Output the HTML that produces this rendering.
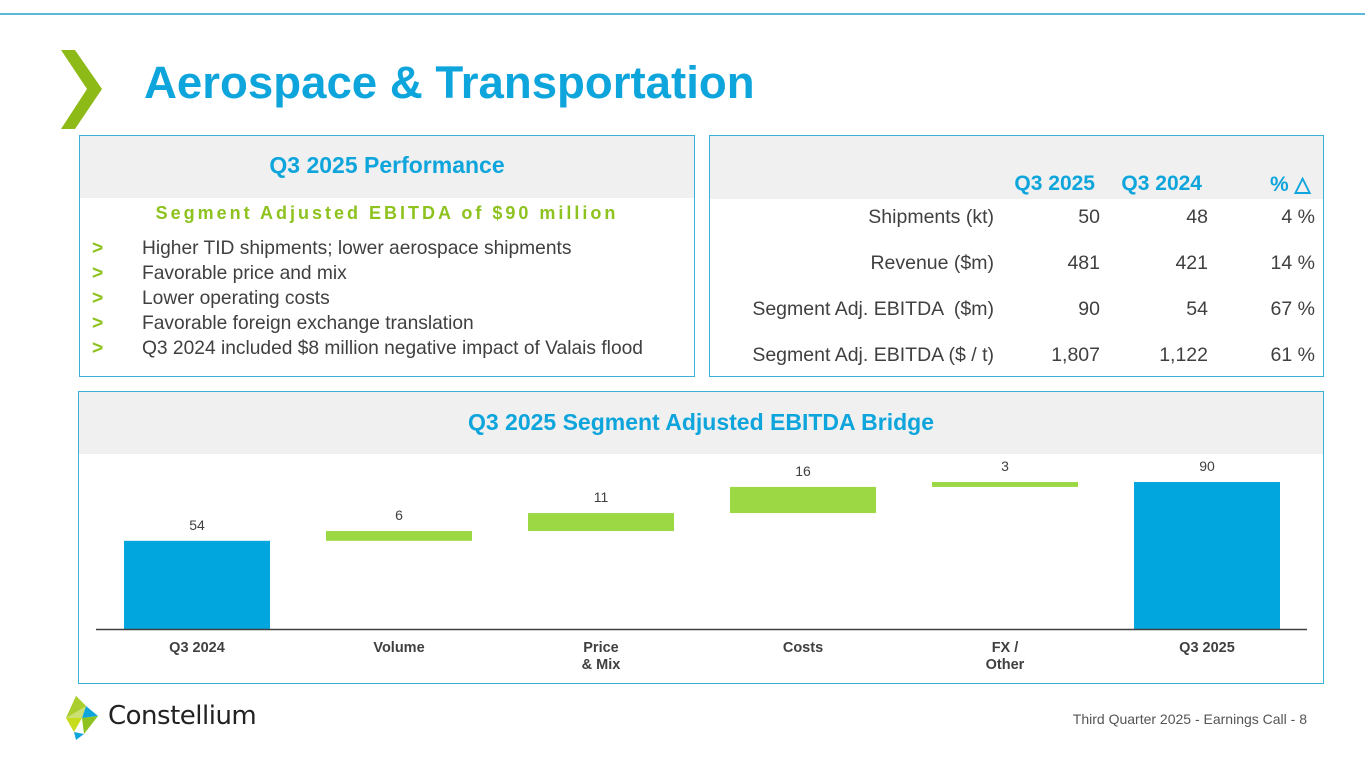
<!DOCTYPE html>
<html><head><meta charset="utf-8">
<style>
body{margin:0;width:1365px;height:768px;background:#fff;font-family:"Liberation Sans",Arial,sans-serif;position:relative;overflow:hidden;color:#404040}
.abs{position:absolute}
.box{position:absolute;border:1.5px solid #3bb0d8;box-sizing:border-box;background:#fff}
.hdr{position:absolute;left:0;right:0;top:0;background:#f0f0f0}
.blue{color:#0ea5dc}
.bul{position:absolute;left:62px;font-size:19.2px;color:#404040;white-space:nowrap}
.bul b{color:#8dc21f;position:absolute;left:-50px}
.row{position:absolute;font-size:19.5px;color:#404040;text-align:right;white-space:nowrap}
.row.blue{color:#0ea5dc}
</style></head><body>
<div class="abs" style="left:0;top:13px;width:1365px;height:2px;background:#5bb8d9"></div>
<svg class="abs" style="left:58px;top:47px" width="46" height="86"><polygon points="3,3 17,3 44,42 17,82 3,82 29,42" fill="#8dba17"/></svg>
<div class="abs blue" style="left:144px;top:57px;font-size:45.6px;font-weight:bold">Aerospace &amp; Transportation</div>

<div class="box" style="left:79px;top:135px;width:616px;height:242px">
 <div class="hdr" style="height:62px"></div>
 <div class="abs blue" style="left:0;right:0;top:16px;text-align:center;font-size:23px;font-weight:bold">Q3 2025 Performance</div>
 <div class="abs" style="left:0;right:0;top:67px;text-align:center;font-size:18px;font-weight:bold;color:#8dc21f;letter-spacing:3px">Segment Adjusted EBITDA of $90 million</div>
 <div class="bul" style="top:102px"><b>&gt;</b>Higher TID shipments; lower aerospace shipments</div>
 <div class="bul" style="top:127px"><b>&gt;</b>Favorable price and mix</div>
 <div class="bul" style="top:152px"><b>&gt;</b>Lower operating costs</div>
 <div class="bul" style="top:177px"><b>&gt;</b>Favorable foreign exchange translation</div>
 <div class="bul" style="top:202px"><b>&gt;</b>Q3 2024 included $8 million negative impact of Valais flood</div>
</div>

<div class="box" style="left:709px;top:135px;width:615px;height:242px">
 <div class="hdr" style="height:63px"></div>
 <div class="row blue" style="left:280px;width:105px;top:36px;font-size:21px;font-weight:bold">Q3 2025</div>
 <div class="row blue" style="left:380px;width:112px;top:36px;font-size:21px;font-weight:bold">Q3 2024</div>
 <div class="row blue" style="left:560px;width:60px;top:36px;font-size:21px;font-weight:bold;text-align:left">% △</div>
 <div id="rows"></div>
</div>

<div class="box" style="left:78px;top:391px;width:1246px;height:293px">
 <div class="hdr" style="height:62px"></div>
 <div class="abs blue" style="left:0;right:0;top:17px;text-align:center;font-size:23px;font-weight:bold">Q3 2025 Segment Adjusted EBITDA Bridge</div>
</div>
<svg id="chart" class="abs" style="left:0;top:0" width="1365" height="768"></svg>

<svg class="abs" style="left:62px;top:694px" width="40" height="46">
<polygon points="14,2 24,12 4,24" fill="#8dc21f"/><polygon points="24,12 36,22 20,24" fill="#0ea5dc"/><polygon points="4,24 20,24 12,38" fill="#c8dc1e"/><polygon points="20,24 36,22 22,40" fill="#8dc21f"/><polygon points="12,38 22,40 14,46" fill="#0ea5dc"/><polygon points="14,2 24,12 20,24 4,24" fill="#b5d334" opacity=".7"/></svg>
<div class="abs" style="left:108px;top:701px;font-size:26px;color:#222;font-family:'DejaVu Sans',sans-serif;letter-spacing:-0.5px">Constellium</div>
<div class="abs" style="right:58px;top:711px;font-size:14px;color:#555">Third Quarter 2025 - Earnings Call - 8</div>

<script>
const rowLabels=["Shipments (kt)","Revenue ($m)","Segment Adj. EBITDA  ($m)","Segment Adj. EBITDA ($ / t)"];
const q25=["50","481","90","1,807"];
const q24=["48","421","54","1,122"];
const chg=["4 %","14 %","67 %","61 %"];
const rows=document.getElementById('rows');
rowLabels.forEach((l,i)=>{
 const t=70+i*46;
 const cells=[[l,0,284],[q25[i],300,90],[q24[i],400,98],[chg[i],500,105]];
 cells.forEach((c,j)=>{
  const d=document.createElement('div');d.className='row';
  
  
  d.style.left=c[1]+'px';d.style.width=c[2]+'px';d.style.top=t+'px';d.textContent=c[0];
  if(j===0)d.style.whiteSpace='pre';
  rows.appendChild(d);
 });
});

const categories=["Q3 2024","Volume","Price\n& Mix","Costs","FX /\nOther","Q3 2025"];
const values=[54,6,11,16,3,90];
const isTotal=[true,false,false,false,false,true];
const svg=document.getElementById('chart');const NS='http://www.w3.org/2000/svg';
const base=629,scale=1.633,x0=124,step=202,bw=146;
const y=v=>base-v*scale;
function mk(tag,attrs){const e=document.createElementNS(NS,tag);for(const k in attrs)e.setAttribute(k,attrs[k]);svg.appendChild(e);return e;}
let cum=0;
values.forEach((v,i)=>{
 let lo,hi;
 if(isTotal[i]){lo=0;hi=v;cum=v;}else{lo=cum;hi=cum+v;cum=hi;}
 const r=mk('rect',{x:x0+i*step,y:y(hi),width:bw,height:y(lo)-y(hi),fill:isTotal[i]?'#00a6dd':'#9bd843'});
 
 
 const t=mk('text',{x:x0+i*step+bw/2,y:y(hi)-11,'text-anchor':'middle','font-size':14,fill:'#404040','font-family':'Liberation Sans'});
 t.textContent=v;
 
 
 categories[i].split('\n').forEach((ln,k)=>{
  const c=mk('text',{x:x0+i*step+bw/2,y:652+k*17,'text-anchor':'middle','font-size':14.5,'font-weight':'bold',fill:'#404040','font-family':'Liberation Sans'});
  c.textContent=ln;
  
  
 });
});
const ax=mk('line',{x1:96,x2:1307,y1:base+0.5,y2:base+0.5,stroke:'#404040','stroke-width':1.5});


</script>
</body></html>
